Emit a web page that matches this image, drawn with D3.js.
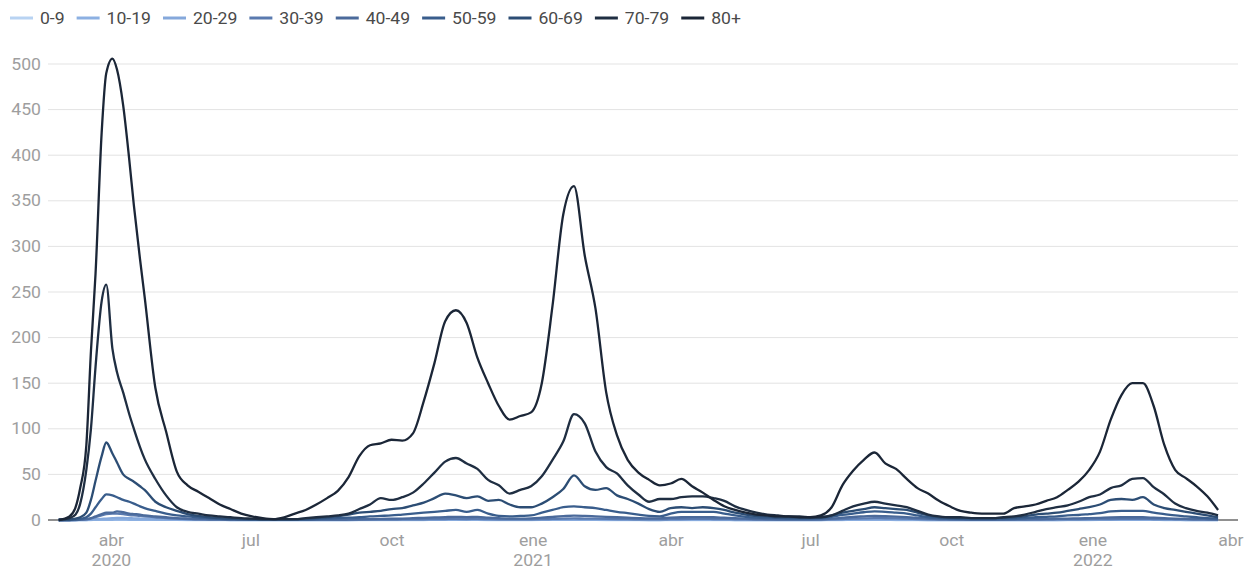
<!DOCTYPE html>
<html><head><meta charset="utf-8">
<script src="https://cdn.jsdelivr.net/npm/d3@7"></script>
<style>
body{margin:0;background:#fff;}
svg text{font-family:Roboto, "Noto Sans", sans-serif;}
</style>
</head><body>
<svg id="chart" width="1246" height="569"></svg>
<script>
// ---------- DATA ----------
const dates = ["2020-02-27","2020-03-05","2020-03-09","2020-03-12","2020-03-16","2020-03-19","2020-03-22","2020-03-26","2020-03-29","2020-04-02","2020-04-05","2020-04-09","2020-04-13","2020-04-16","2020-04-20","2020-04-23","2020-04-30",
"2020-05-07","2020-05-14","2020-05-21","2020-05-28","2020-06-04","2020-06-11","2020-06-18","2020-06-25","2020-07-02","2020-07-09","2020-07-16","2020-07-23","2020-07-30","2020-08-06","2020-08-13","2020-08-20","2020-08-27","2020-09-03","2020-09-10","2020-09-17","2020-09-24","2020-10-01","2020-10-08","2020-10-15","2020-10-22","2020-10-29","2020-11-05","2020-11-12","2020-11-19","2020-11-26","2020-12-03","2020-12-10","2020-12-17","2020-12-24","2020-12-31",
"2021-01-07","2021-01-14","2021-01-21","2021-01-28","2021-02-04","2021-02-11","2021-02-18","2021-02-25","2021-03-04","2021-03-11","2021-03-18","2021-03-25","2021-04-01","2021-04-08","2021-04-15","2021-04-22","2021-04-29","2021-05-06","2021-05-13","2021-05-20","2021-05-27","2021-06-03","2021-06-10","2021-06-17","2021-06-24","2021-07-01","2021-07-08","2021-07-15","2021-07-22","2021-07-29","2021-08-05","2021-08-12","2021-08-19","2021-08-26","2021-09-02","2021-09-09","2021-09-16","2021-09-23","2021-09-30","2021-10-07","2021-10-14","2021-10-21","2021-10-28","2021-11-04","2021-11-11","2021-11-18","2021-11-25","2021-12-02","2021-12-09","2021-12-16","2021-12-23","2021-12-30",
"2022-01-06","2022-01-13","2022-01-20","2022-01-27","2022-02-03","2022-02-10","2022-02-17","2022-02-24","2022-03-03","2022-03-10","2022-03-17","2022-03-24"];

const ageGroups = ["0-9","10-19","20-29","30-39","40-49","50-59","60-69","70-79","80+"];

const v0_9 = [0,0,0,0,0,0,0.1,0.1,0.1,0.1,0.1,0.1,0.1,0.1,0.1,0.1,0.1,
0.1,0.1,0,0,0,0,0,0,0,0, 0,0,0,0,0,0,0,0,0,0, 0,0,0,0,0,0.1,0.1,0.1,0.1,0.1, 0,0,0,0,0,0.1,0.1,0.1,0.1,0.1,
0.1,0,0,0,0,0,0,0,0,0, 0,0,0,0,0,0,0,0,0,0, 0,0,0,0,0.1,0.1,0.1,0.1,0,0, 0,0,0,0,0,0,0,0,0,0,
0,0,0,0,0,0,0,0.1,0.1,0.1, 0.1,0.1,0.1,0,0,0,0,0,0];

const v10_19 = [0,0,0,0,0,0.1,0.1,0.2,0.3,0.3,0.4,0.4,0.3,0.3,0.3,0.3,0.2,
0.2,0.1,0.1,0.1,0.1,0.1,0,0,0,0, 0,0,0,0,0,0,0,0,0.1,0.1, 0.1,0.1,0.1,0.1,0.1,0.1,0.1,0.1,0.1,0.1, 0.1,0.1,0.1,0.1,0.1,0.1,0.1,0.1,0.1,0.1,
0.1,0.1,0.1,0.1,0.1,0,0,0.1,0.1,0.1, 0.1,0.1,0.1,0,0,0,0,0,0,0, 0,0,0.1,0.1,0.1,0.1,0.1,0.1,0.1,0.1, 0.1,0,0,0,0,0,0,0,0,0,
0,0,0,0,0.1,0.1,0.1,0.1,0.1,0.1, 0.1,0.1,0.1,0.1,0.1,0,0,0,0];

const v20_29 = [0,0,0,0.1,0.2,0.4,0.8,1.2,1.6,2,2.2,2.2,2,1.8,1.6,1.4,1.1,
0.8,0.6,0.4,0.3,0.2,0.2,0.2,0.1,0.1,0.1, 0.1,0.1,0.1,0.1,0.1,0.1,0.2,0.2,0.2,0.2, 0.2,0.2,0.2,0.3,0.3,0.3,0.4,0.4,0.4,0.4, 0.3,0.3,0.2,0.2,0.3,0.3,0.4,0.5,0.5,0.5,
0.5,0.4,0.4,0.3,0.3,0.3,0.3,0.3,0.4,0.4, 0.4,0.4,0.3,0.3,0.2,0.2,0.2,0.1,0.1,0.1, 0.1,0.2,0.3,0.5,0.6,0.7,0.8,0.7,0.6,0.5, 0.4,0.3,0.2,0.2,0.1,0.1,0.1,0.1,0.1,0.1,
0.1,0.1,0.2,0.2,0.2,0.2,0.3,0.3,0.3,0.3, 0.3,0.3,0.3,0.2,0.2,0.2,0.1,0.1,0.1];

const v30_39 = [0,0,0,0.2,0.6,1.5,3,5,6.5,7,7,6.5,5.5,5,4.5,4,3,
2,1.5,1,0.7,0.5,0.4,0.3,0.3,0.3,0.3, 0.3,0.3,0.3,0.3,0.3,0.3,0.3,0.3,0.4,0.4, 0.5,0.5,0.6,0.7,0.8,1,1.1,1.2,1.1,1.2, 1,0.8,0.6,0.6,0.7,0.9,1.2,1.5,1.7,1.6,
1.5,1.3,1.1,0.9,0.8,0.7,0.7,0.9,1.1,1.2, 1.2,1.1,1,0.8,0.6,0.5,0.4,0.3,0.3,0.3, 0.3,0.4,0.7,1.1,1.5,1.8,2,1.9,1.7,1.4, 1,0.7,0.5,0.4,0.3,0.3,0.3,0.3,0.3,0.3,
0.4,0.5,0.5,0.6,0.7,0.8,0.9,1,1.1,1.2, 1.2,1.2,1.1,1,0.8,0.6,0.5,0.4,0.3];

const v40_49 = [0,0,0.1,0.3,1,2,4,6.5,8,8,9.5,8.5,7,6.5,6,5,4,
3,2,1.5,1,0.8,0.6,0.4,0.4,0.3,0.3, 0.3,0.3,0.3,0.3,0.4,0.4,0.5,0.6,0.8,1, 1.2,1.4,1.6,2,2.4,2.8,3.2,3.5,3.2,3.4, 2.6,2,1.6,1.6,1.8,2.5,3.4,4.2,4.8,4.5,
4,3.5,3,2.5,2,1.7,1.8,2.5,3,3.2, 3.2,3,2.5,2,1.4,1,0.8,0.7,0.6,0.6, 0.6,0.8,1.5,2.5,3.5,4,4.5,4.2,3.8,3.2, 2.4,1.6,1,0.8,0.6,0.5,0.5,0.5,0.5,0.6,
0.8,1,1.2,1.4,1.6,1.8,2,2.4,2.8,3, 3,3,2.5,2,1.5,1.2,1,0.8,0.5];

const v50_59 = [0,0,0.5,1,3,7,14,23,28,27,25,22,20,18,15,13,10,
7,5,4,3,2,1.5,1,1,0.5,0.5, 0.5,0.5,0.5,0.5,1,1.5,2,2.5,3,4, 4.5,5,6,7,8,9,10,11,9,11, 7,4.5,4,4.5,5,8,11,14,15,14,
13,11,9,7.5,6,4.5,4,7,9,9, 9,9,7,5,3.5,2.5,2,2,1.5,1.5, 1.5,2,3.5,5.5,7,8.5,9.5,9,8,7, 5,3,2,1.5,1.2,1,1,1,1.2,1.5,
2,3,3.5,4,5,5.5,6.5,7.5,9.5,10, 10,10,8,6.5,5,4,3,2,1.5];

const v60_69 = [0,0.5,1.5,3,8,22,43,70,85,73,63,50,45,42,37,33,20,
14,10,6.5,4.5,3,2,1.5,1,1,0.8, 0.8,0.8,1,1.5,2,3,4,6,8,9, 10,12,13,16,19,24,29,27,24,26, 21,22,17,14,14,18,25,34,49,37,
33,35,27,23,18,12,9,13,14,13, 14,13,11,8,6,4.5,4,3,3,2.5, 2.5,3,5,8,10,12,14,13,12,11, 8,5,3,2.5,2,2,2,2,2.5,3,
4,6,7,8,10,12,14,17,22,23, 22,25,17,13,11,9,7,5,3];

const v70_79 = [0,2,6,18,55,100,168,240,258,188,162,140,116,100,80,67,45,
27,14,9,7,5,4,3,2,1.5,1, 1,1,1,2,3,4,5,7,12,17, 24,22,25,30,40,52,64,68,62,56, 44,38,29,33,37,48,66,86,116,106,
75,58,51,38,28,20,23,23,25,26, 26,24,21,15,11,8,6,5,4,4, 3,3,5,10,15,18,20,18,16,14, 10,6,4,3,3,2,2,2,3,4,
6,9,12,14,16,20,25,28,35,38, 45,46,36,28,18,13,10,8,5];

const v80 = [0,4,14,35,82,185,270,425,490,506,494,455,395,345,286,245,145,
97,53,38,31,24,17,12,7,4,2, 1,3,7,11,17,24,32,47,70,82, 84,88,87,95,130,172,218,230,216,178, 150,125,110,114,118,150,235,335,366,290,
232,140,93,66,52,44,38,40,45,37, 30,22,15,11,8,6,5,4,4,3, 3,5,14,38,54,66,74,62,56,45, 35,29,21,15,10,8,7,7,7,13,
15,17,21,25,33,42,55,75,110,137, 150,150,125,82,55,46,37,26,11];

const yTicks = [0,50,100,150,200,250,300,350,400,450,500];
const xTickDates = ["2020-04-01","2020-07-01","2020-10-01","2021-01-01","2021-04-01","2021-07-01","2021-10-01","2022-01-01","2022-04-01"];
const xTickMonths = ["abr","jul","oct","ene","abr","jul","oct","ene","abr"];
const xTickYears = ["2020","","","2021","","","","2022",""];

(function () {
// ---------- STYLE ----------
const colors = ["#b8d3f2","#8cb0e2","#85a8db","#5a7aaf","#4b6a9b","#395d8c","#2c4d74","#1f2e42","#1b2637"];
const mLeft = 48, mRight = 1238, mTop = 64, mBottom = 520;
const SX = 1.1;          // slight horizontal glyph stretch seen in the reference
const stretch = `scale(${SX},1)`;

const parse = d3.timeParse("%Y-%m-%d");
const parsedDates = dates.map(parse);
const seriesValues = [v0_9, v10_19, v20_29, v30_39, v40_49, v50_59, v60_69, v70_79, v80];
const series = ageGroups.map((name, i) => ({
  name, color: colors[i],
  points: parsedDates.map((d, j) => ({date: d, value: seriesValues[i][j]}))
}));

const svg = d3.select("#chart");
const x = d3.scaleTime().domain([parse("2020-02-20"), parse("2022-04-06")]).range([mLeft, mRight]);
const y = d3.scaleLinear().domain([0, 500]).range([mBottom, mTop]);

// gridlines
svg.append("g").selectAll("line").data(yTicks.filter(d => d > 0)).join("line")
  .attr("x1", mLeft).attr("x2", mRight)
  .attr("y1", d => y(d)).attr("y2", d => y(d))
  .attr("stroke", "#e3e3e3").attr("stroke-width", 1);

// y axis labels
const yAxis = svg.append("g").attr("transform", `translate(${mLeft - 7},0)`)
  .call(d3.axisLeft(y).tickValues(yTicks).tickSize(0).tickPadding(0));
yAxis.select(".domain").remove();
yAxis.selectAll("text").attr("fill", "#9e9e9e").attr("font-size", 16).attr("font-family", "Roboto")
  .attr("x", 0).attr("transform", stretch);

// x axis
const xAxis = svg.append("g").attr("transform", `translate(0,${mBottom})`)
  .call(d3.axisBottom(x).tickValues(xTickDates.map(parse)).tickSize(0)
    .tickFormat((d, i) => xTickMonths[i]));
xAxis.select(".domain").remove();
xAxis.selectAll("text").attr("fill", "#9e9e9e").attr("font-size", 16).attr("font-family", "Roboto")
  .attr("y", 26).attr("dy", 0).attr("transform", stretch);
xAxis.selectAll(".tick").each(function(d, i) {
  if (xTickYears[i]) {
    d3.select(this).append("text").text(xTickYears[i])
      .attr("fill", "#9e9e9e").attr("font-size", 16).attr("font-family", "Roboto")
      .attr("text-anchor", "middle").attr("y", 46).attr("transform", stretch);
  }
});

// baseline
svg.append("line").attr("x1", mLeft).attr("x2", mRight).attr("y1", y(0)).attr("y2", y(0))
  .attr("stroke", "#222").attr("stroke-width", 1.2);

// lines
const line = d3.line().x(d => x(d.date)).y(d => y(d.value)).curve(d3.curveMonotoneX);
svg.append("g").selectAll("path").data(series).join("path")
  .attr("d", d => line(d.points))
  .attr("fill", "none").attr("stroke", d => d.color)
  .attr("stroke-width", 2.3).attr("stroke-linejoin", "round");

// legend
const legend = svg.append("g").attr("transform", "translate(0,18)");
let lx = 10;
series.forEach(s => {
  const g = legend.append("g").attr("transform", `translate(${lx},0)`);
  g.append("line").attr("x1", 0).attr("x2", 23).attr("y1", 0).attr("y2", 0)
    .attr("stroke", s.color).attr("stroke-width", 3);
  const t = g.append("text").text(s.name).attr("x", 30 / SX).attr("y", 0).attr("dy", "0.35em")
    .attr("fill", "#4a4a4a").attr("font-size", 16).attr("font-family", "Roboto")
    .attr("transform", stretch);
  lx += 30 + t.node().getComputedTextLength() * SX + 12;
});
})();
</script>
</body></html>
